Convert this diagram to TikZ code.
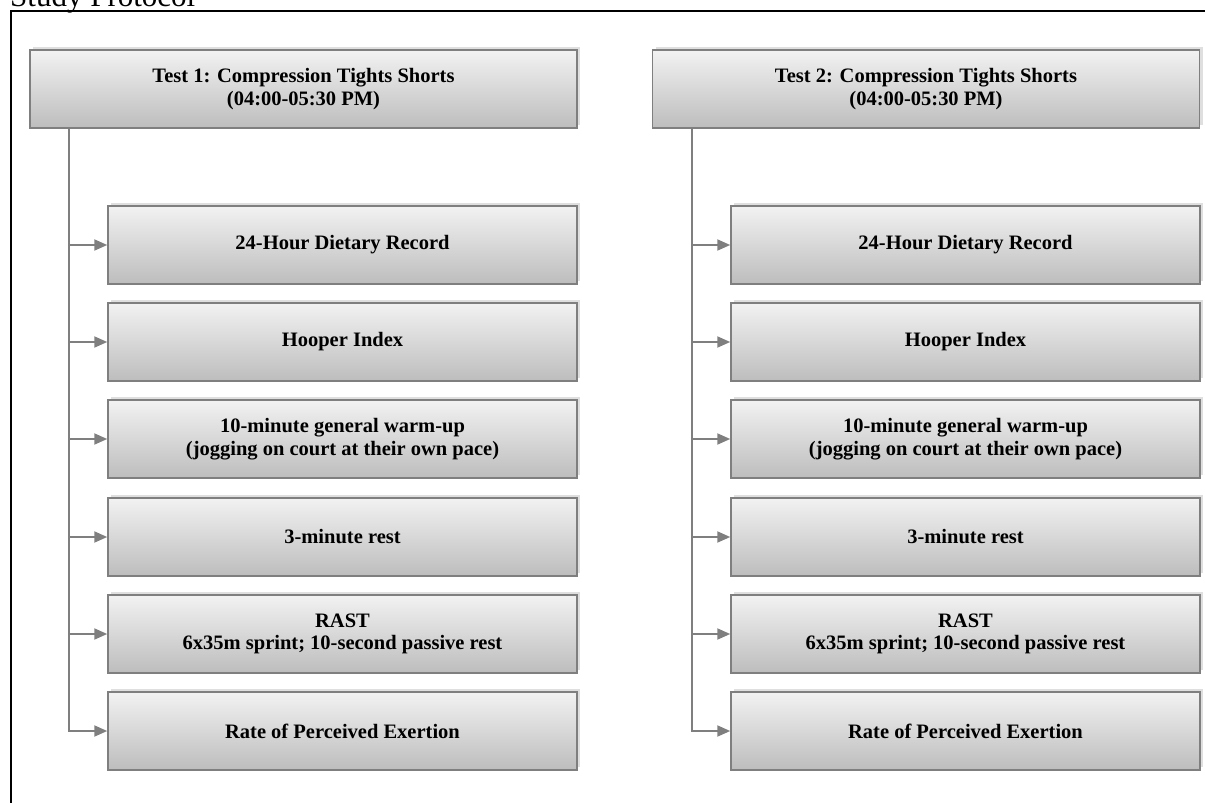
\documentclass[tikz,border=0pt]{standalone}
\usepackage{fontspec}
\setmainfont{Liberation Serif}
\usetikzlibrary{arrows.meta,shadows}
\definecolor{linegray}{HTML}{7F7F7F}
\definecolor{boxtop}{HTML}{F2F2F2}
\definecolor{boxbottom}{HTML}{BDBDBD}
\tikzset{
  stage/.style={draw=linegray, line width=1.5pt, top color=boxtop, bottom color=boxbottom,
    drop shadow={opacity=0.25, shadow xshift=3pt, shadow yshift=3pt},
    minimum height=78pt, align=center, inner sep=2pt,
    font=\bfseries\fontsize{20.5}{22.5}\selectfont},
  test/.style={stage, minimum width=547pt},
  task/.style={stage, minimum width=469pt},
  feed/.style={draw=linegray, line width=2pt, -{Triangle[length=13pt,width=11pt]}},
}
\begin{document}
\begin{tikzpicture}[x=1pt,y=-1pt]
      \useasboundingbox (0,0) rectangle (1205,803);
      \node[anchor=base west, font=\fontsize{31}{33}\selectfont, inner sep=0pt] (title) at (10,6) {Study Protocol};
      \draw[line width=2pt] (11,803) -- (11,11) -- (1205,11);
      % left column
      \node[test] (h1) at (303.5,89) {Test 1: Compression Tights Shorts\\(04:00-05:30 PM)};
      \node[task] (a1) at (342.5,245) {24-Hour Dietary Record};
      \node[task] (a2) at (342.5,342) {Hooper Index};
      \node[task] (a3) at (342.5,439) {10-minute general warm-up\\(jogging on court at their own pace)};
      \node[task] (a4) at (342.5,537) {3-minute rest};
      \node[task] (a5) at (342.5,634) {RAST\\6x35m sprint; 10-second passive rest};
      \node[task] (a6) at (342.5,731) {Rate of Perceived Exertion};
      % right column
      \node[test] (h2) at (926,89) {Test 2: Compression Tights Shorts\\(04:00-05:30 PM)};
      \node[task] (b1) at (965.5,245) {24-Hour Dietary Record};
      \node[task] (b2) at (965.5,342) {Hooper Index};
      \node[task] (b3) at (965.5,439) {10-minute general warm-up\\(jogging on court at their own pace)};
      \node[task] (b4) at (965.5,537) {3-minute rest};
      \node[task] (b5) at (965.5,634) {RAST\\6x35m sprint; 10-second passive rest};
      \node[task] (b6) at (965.5,731) {Rate of Perceived Exertion};
      \coordinate (ta) at (69,128);
      \coordinate (tb) at (692,128);
      \begin{scope}[feed]
        \draw (ta) |- (a6.west);
        \draw (ta |- a1.west) -- (a1.west);
        \draw (ta |- a2.west) -- (a2.west);
        \draw (ta |- a3.west) -- (a3.west);
        \draw (ta |- a4.west) -- (a4.west);
        \draw (ta |- a5.west) -- (a5.west);
        \draw (tb) |- (b6.west);
        \draw (tb |- b1.west) -- (b1.west);
        \draw (tb |- b2.west) -- (b2.west);
        \draw (tb |- b3.west) -- (b3.west);
        \draw (tb |- b4.west) -- (b4.west);
        \draw (tb |- b5.west) -- (b5.west);
      \end{scope}
    \end{tikzpicture}
\end{document}
